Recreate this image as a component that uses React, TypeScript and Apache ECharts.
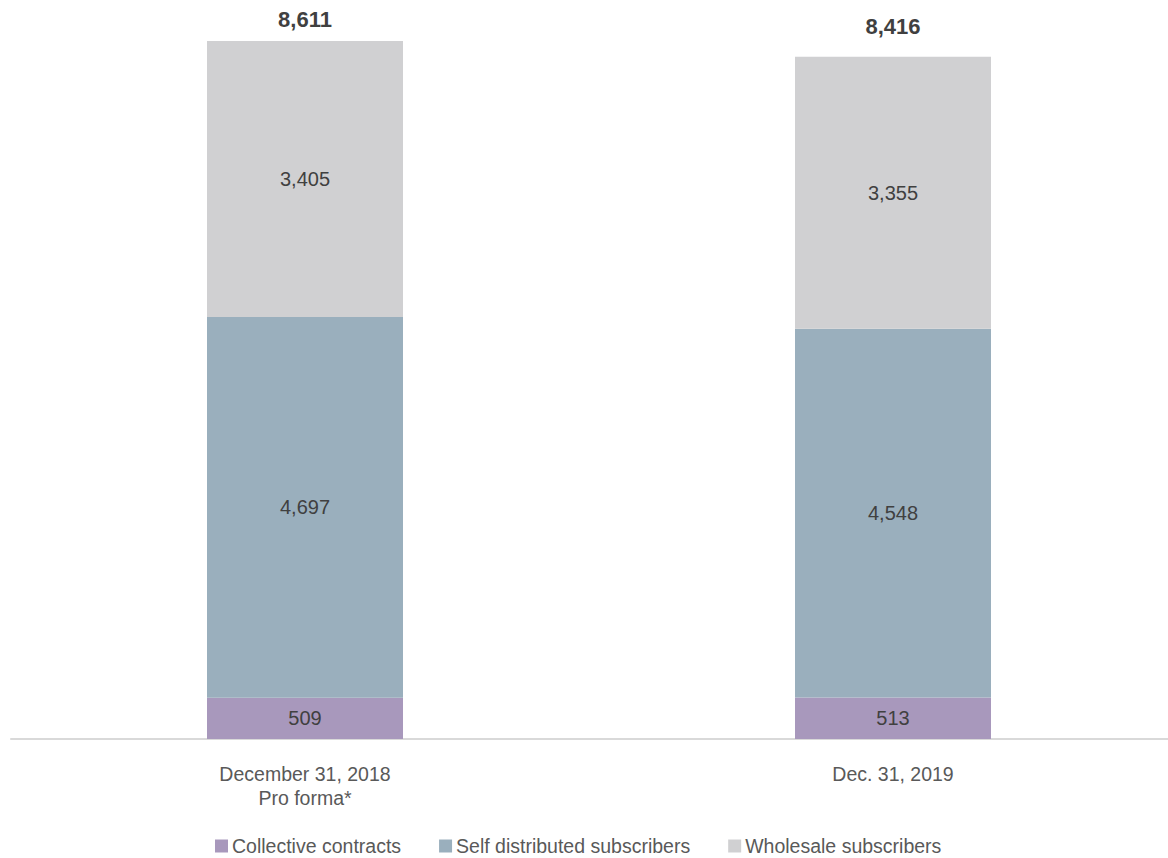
import React, { useEffect, useRef } from "react";
import * as echarts from "echarts";

const categories = ["December 31, 2018\nPro forma*", "Dec. 31, 2019"];
const collective = [509, 513];
const selfDistributed = [4697, 4548];
const wholesale = [3405, 3355];
const totals = [8611, 8416];

const FONT = "'Liberation Sans', Arial, sans-serif";
const fmt = (v: number) => v.toLocaleString("en-US");

export default function App() {
  const ref = useRef<HTMLDivElement>(null);
  useEffect(() => {
    document.body.style.margin = "0";
    const chart = echarts.init(ref.current!, undefined, { renderer: "svg" });
    const valueLabel = {
      show: true,
      position: "inside",
      color: "#404040",
      fontSize: 20,
      fontFamily: FONT,
      formatter: (p: any) => fmt(p.value),
    };
    chart.setOption({
      animation: false,
      backgroundColor: "#ffffff",
      grid: {
        left: 11,
        right: -19,
        top: 9.4,
        bottom: 119,
        containLabel: false,
        outerBoundsMode: "none",
      },
      legend: {
        data: ["Collective contracts", "Self distributed subscribers", "Wholesale subscribers"],
        top: 831,
        left: 210,
        icon: "rect",
        itemWidth: 13,
        itemHeight: 13,
        itemGap: 38,
        textStyle: { color: "#595959", fontSize: 19.5, fontFamily: FONT, padding: [0, 0, 0, -1] },
      },
      xAxis: {
        type: "category",
        data: categories,
        axisLine: { show: true, lineStyle: { color: "#d9d9d9", width: 2 } },
        axisTick: { show: false },
        axisLabel: {
          color: "#595959",
          fontSize: 19.5,
          fontFamily: FONT,
          lineHeight: 24,
          margin: 23,
        },
      },
      yAxis: { type: "value", min: 0, max: 9000, show: false, splitLine: { show: false } },
      series: [
        {
          name: "Collective contracts",
          type: "bar",
          stack: "s",
          barWidth: 196,
          data: collective,
          itemStyle: { color: "#a898bc" },
          label: valueLabel,
        },
        {
          name: "Self distributed subscribers",
          type: "bar",
          stack: "s",
          data: selfDistributed,
          itemStyle: { color: "#9aafbd" },
          label: valueLabel,
        },
        {
          name: "Wholesale subscribers",
          type: "bar",
          stack: "s",
          data: wholesale,
          itemStyle: { color: "#d0d0d2" },
          label: valueLabel,
        },
        {
          name: "Total",
          type: "bar",
          stack: "s",
          data: totals.map((t, i) => ({
            value: 0,
            total: t,
            label: { distance: i === 0 ? 10 : 19 },
          })),
          itemStyle: { color: "transparent" },
          label: {
            show: true,
            position: "top",
            color: "#404040",
            fontSize: 22,
            fontWeight: "bold",
            fontFamily: FONT,
            formatter: (p: any) => fmt(totals[p.dataIndex]),
          },
        },
      ],
    });
    return () => chart.dispose();
  }, []);
  return <div ref={ref} style={{ width: 1168, height: 858, position: "absolute", left: 0, top: 0 }} />;
}
